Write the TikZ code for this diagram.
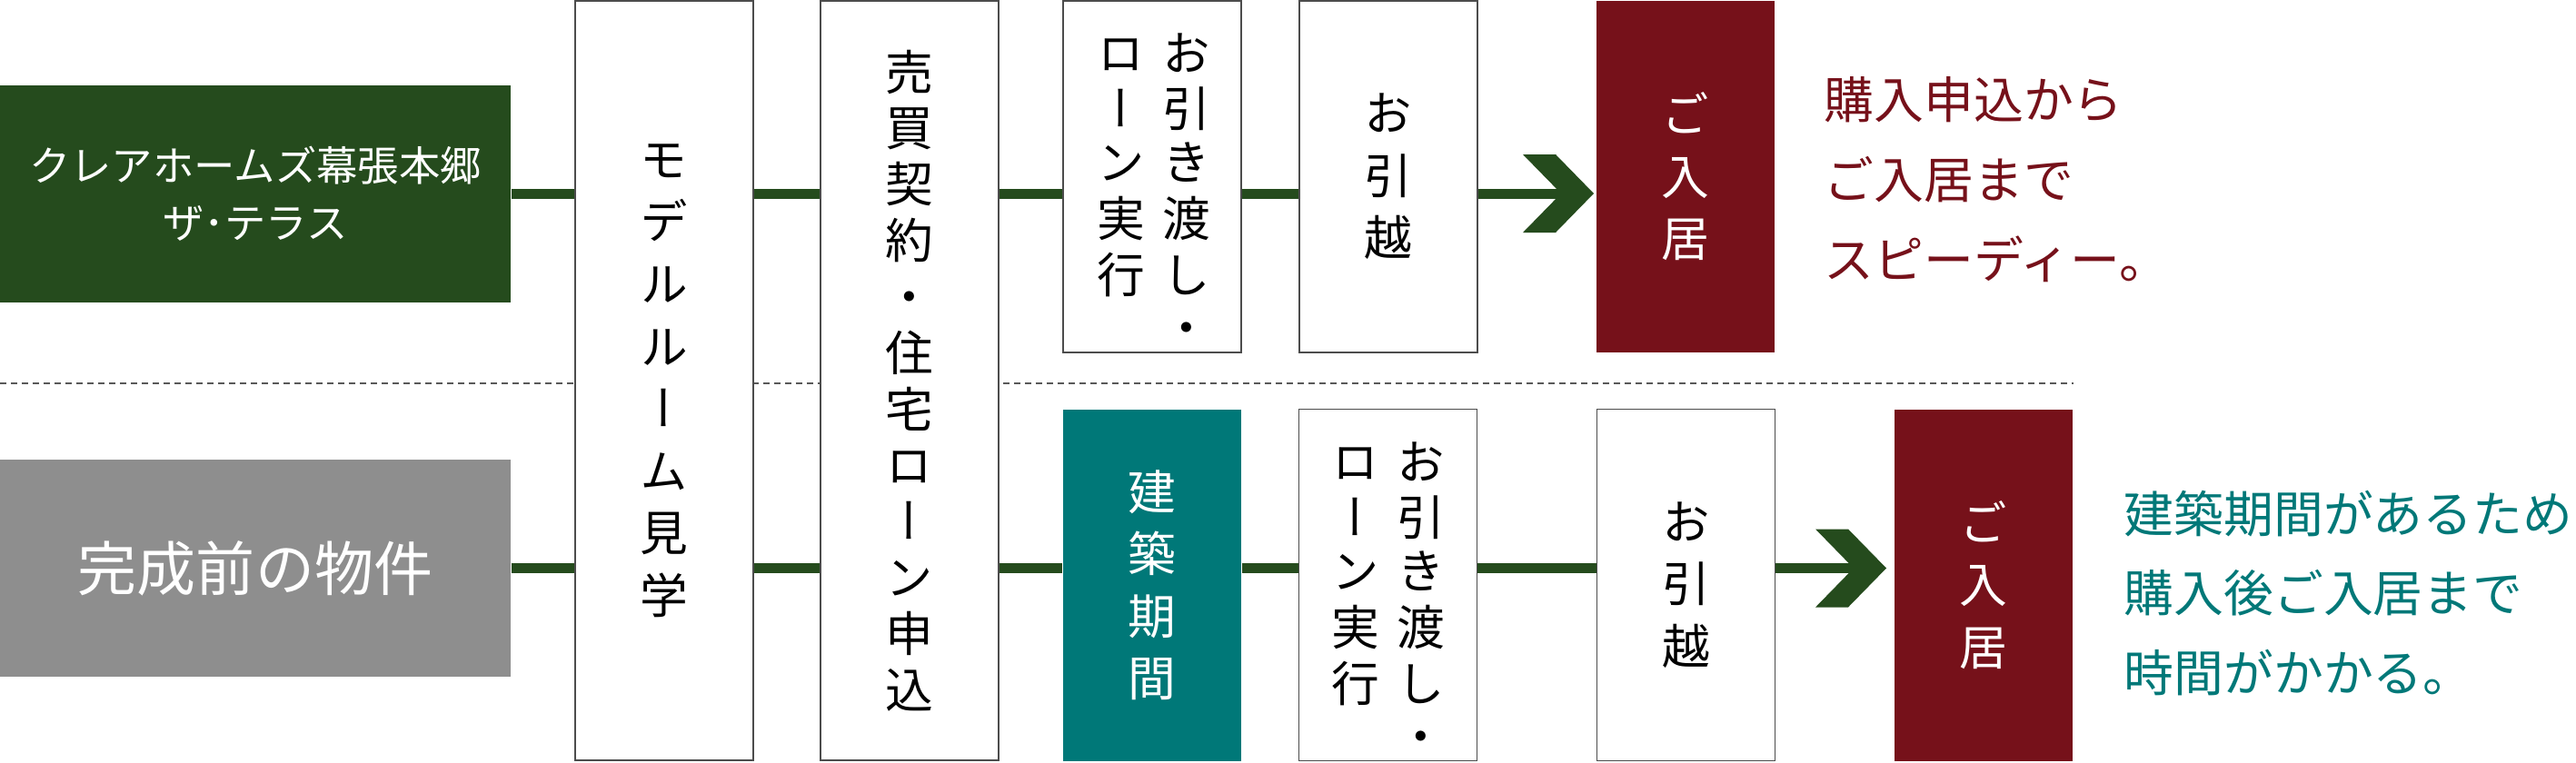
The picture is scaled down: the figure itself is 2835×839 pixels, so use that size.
\documentclass[tikz,border=0pt]{standalone}
\usepackage{fontspec}
\newfontfamily\jpfont{Noto Sans CJK JP}
\newfontfamily\jpvfont[RawFeature=+vert]{Noto Sans CJK JP}
\definecolor{flowgreen}{HTML}{254B1D}
\definecolor{movered}{HTML}{76111A}
\definecolor{buildteal}{HTML}{007878}
\definecolor{plangray}{HTML}{8E8E8E}

\begin{document}
\begin{tikzpicture}[x=0.1mm,y=-0.1mm,
  stepbox/.style={draw=black!70, line width=0.15mm, fill=white, inner sep=0pt, minimum width=19.6mm, align=center, font=\jpvfont\fontsize{15pt}{19.5pt}\selectfont},
  tallbox/.style={stepbox, minimum height=83.6mm},
  halfbox/.style={stepbox, minimum height=38.7mm},
  markbox/.style={halfbox, draw=none, text=white},
  startbox/.style={inner sep=0pt, minimum width=56.2mm, minimum height=23.9mm, text=white, align=center},
  twocol/.style={inner sep=0pt, anchor=north, font=\jpvfont\fontsize{15pt}{16.6pt}\selectfont},
  flow/.style={flowgreen, line width=1.1mm},
  note/.style={anchor=north west, inner sep=0pt, align=left, font=\jpfont\fontsize{15.6pt}{25pt}\selectfont}]
\useasboundingbox (0,0) rectangle (2835,839);
\draw[black!65, line width=0.2mm, dash pattern=on 0.75mm off 0.45mm] (0,422) -- (2282,422);

\node[startbox, fill=flowgreen, font=\jpfont\fontsize{12.9pt}{17.9pt}\selectfont] (terrace) at (281,213) {クレアホームズ幕張本郷\\ザ･テラス};
\node[startbox, fill=plangray, font=\jpfont\fontsize{18.5pt}{20pt}\selectfont] (precomp) at (281,625.5) {完成前の物件};

\node[tallbox] (modelroom) at (731,419) {モ\\デ\\ル\\ル\\ー\\ム\\見\\学};
\node[tallbox, font=\jpvfont\fontsize{15pt}{17.6pt}\selectfont] (contract) at (1001,419) {売\\買\\契\\約\\・\\住\\宅\\ロ\\ー\\ン\\申\\込};

\node[halfbox] (handoverA) at (1268,194.5) {};
\node[twocol] (handoverAtxt) at (1270,36) {\begin{tabular}{@{}c@{\hspace{1.9mm}}c@{}}ロ&お\\ー&引\\ン&き\\実&渡\\行&し\\&・\end{tabular}};
\node[halfbox] (movingA) at (1528,194.5) {お\\引\\越};
\node[markbox, fill=movered] (moveinA) at (1855,194.5) {ご\\入\\居};

\node[markbox, fill=buildteal] (building) at (1268,644) {建\\築\\期\\間};
\node[halfbox] (handoverB) at (1527.5,644) {};
\node[twocol] (handoverBtxt) at (1528,486) {\begin{tabular}{@{}c@{\hspace{1.9mm}}c@{}}ロ&お\\ー&引\\ン&き\\実&渡\\行&し\\&・\end{tabular}};
\node[halfbox] (movingB) at (1855.5,644) {お\\引\\越};
\node[markbox, fill=movered] (moveinB) at (2183,644) {ご\\入\\居};

\coordinate (tipA) at (1754,213);
\coordinate (tipB) at (2076,625.5);

\draw[flow] (terrace.east) -- (terrace.east -| modelroom.west);
\draw[flow] (terrace.east -| modelroom.east) -- (terrace.east -| contract.west);
\draw[flow] (terrace.east -| contract.east) -- (terrace.east -| handoverA.west);
\draw[flow] (terrace.east -| handoverA.east) -- (terrace.east -| movingA.west);
\draw[flow] (terrace.east -| movingA.east) -- ([xshift=-2mm]tipA);
\fill[flowgreen, shift={(tipA)}] (-78,-43) -- (-42,-43) -- (0,0) -- (-42,43) -- (-78,43) -- (-36,0) -- cycle;

\draw[flow] (precomp.east) -- (precomp.east -| modelroom.west);
\draw[flow] (precomp.east -| modelroom.east) -- (precomp.east -| contract.west);
\draw[flow] (precomp.east -| contract.east) -- (precomp.east -| building.west);
\draw[flow] (precomp.east -| building.east) -- (precomp.east -| handoverB.west);
\draw[flow] (precomp.east -| handoverB.east) -- (precomp.east -| movingB.west);
\draw[flow] (precomp.east -| movingB.east) -- ([xshift=-2mm]tipB);
\fill[flowgreen, shift={(tipB)}] (-78,-43) -- (-42,-43) -- (0,0) -- (-42,43) -- (-78,43) -- (-36,0) -- cycle;

\node[note, text=movered] (speedy) at (2007,84) {購入申込から\\ご入居まで\\スピーディー。};
\node[note, text=buildteal] (takestime) at (2337,539) {建築期間があるため\\購入後ご入居まで\\時間がかかる。};
\end{tikzpicture}
\end{document}
